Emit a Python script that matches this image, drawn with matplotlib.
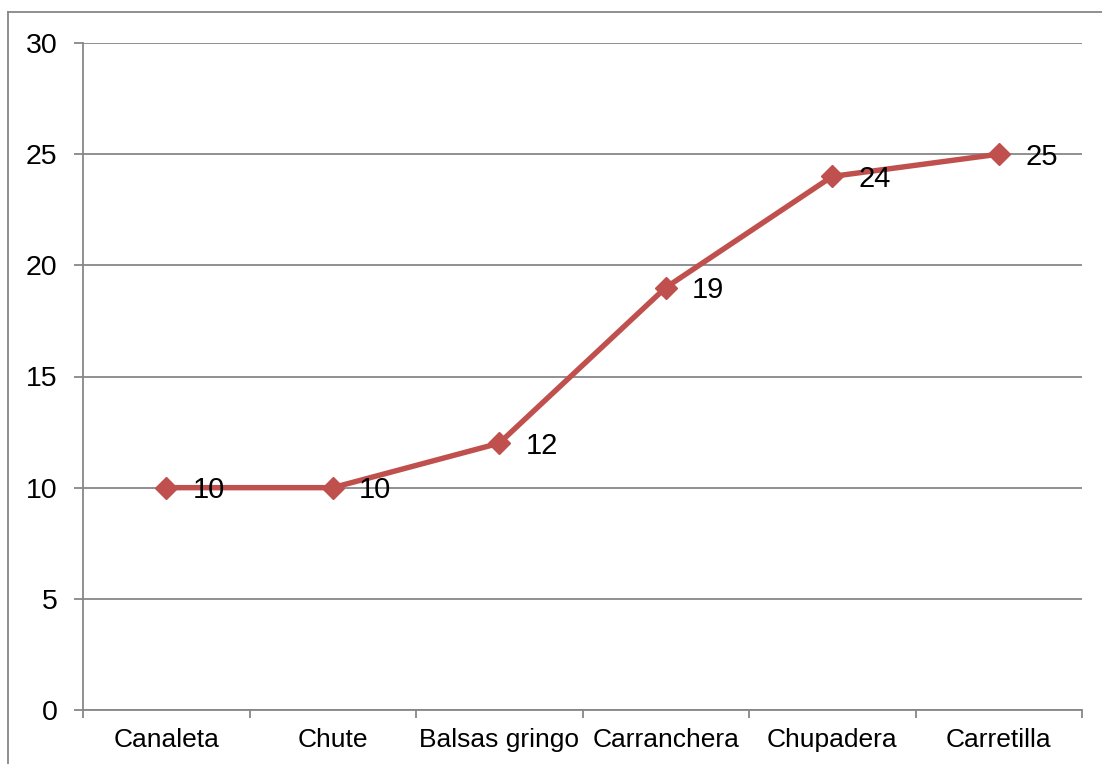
import matplotlib.pyplot as plt
from matplotlib.lines import Line2D

# data
categories = ["Canaleta", "Chute", "Balsas gringo", "Carranchera", "Chupadera", "Carretilla"]
values = [10, 10, 12, 19, 24, 25]
yticks = [0, 5, 10, 15, 20, 25, 30]

plt.rcParams['font.family'] = ['Liberation Sans', 'DejaVu Sans']

line_color = "#C0504D"
grid_color = "#878787"

fig = plt.figure(figsize=(11.02, 7.64), dpi=100)
ax = fig.add_axes([83 / 1102, 1 - 710 / 764, (1082 - 83) / 1102, (710 - 43) / 764])

x = list(range(len(categories)))
ax.plot(x, values, color=line_color, lw=3.9, marker="D", markersize=11,
        markerfacecolor=line_color, markeredgecolor=line_color, zorder=3)

for xi, v in zip(x, values):
    ax.annotate(str(v), (xi, v), xytext=(19, -2), textcoords="offset points",
                ha="left", va="center", fontsize=21, color="black", zorder=4)

ax.set_xlim(-0.5, len(categories) - 0.5)
ax.set_ylim(0, 30)
ax.set_yticks(yticks)
ax.set_yticklabels([str(t) for t in yticks], fontsize=20.5)
ax.yaxis.grid(True, color=grid_color, lw=1.3)
ax.set_axisbelow(True)

ax.set_xticks(x)
ax.set_xticklabels(categories, fontsize=19)
ax.set_xticks([i - 0.5 for i in range(len(categories) + 1)], minor=True)
ax.tick_params(axis="x", which="major", length=0, pad=13)
ax.tick_params(axis="x", which="minor", length=6, width=1.3, color=grid_color)
ax.tick_params(axis="y", length=6.5, width=1.3, color=grid_color, pad=12)

for side in ["top", "right"]:
    ax.spines[side].set_visible(False)
for side in ["left", "bottom"]:
    ax.spines[side].set_color(grid_color)
    ax.spines[side].set_linewidth(1.3)

# outer chart frame
fig.add_artist(Line2D([8 / 1102, 8 / 1102], [0, 1 - 12 / 764], color=grid_color, lw=1.3,
                      transform=fig.transFigure))
fig.add_artist(Line2D([8 / 1102, 1], [1 - 12 / 764, 1 - 12 / 764], color=grid_color, lw=1.3,
                      transform=fig.transFigure))

fig.savefig("out.png", dpi=100)
